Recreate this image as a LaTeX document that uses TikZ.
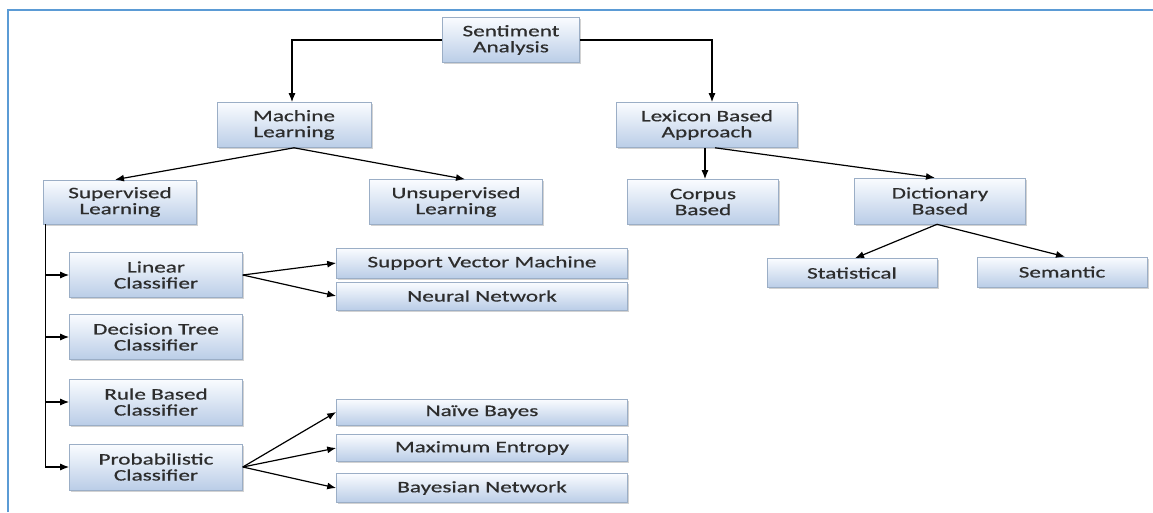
\documentclass[tikz,border=0pt]{standalone}
\usepackage{fontspec}
\setmainfont[FakeStretch=1.45,FakeBold=0.6]{Carlito}
\usetikzlibrary{arrows.meta,shadows}
\definecolor{frameblue}{RGB}{91,155,213}
\definecolor{boxtop}{RGB}{250,252,255}
\definecolor{boxbot}{RGB}{186,205,231}
\definecolor{boxline}{RGB}{155,174,198}
\definecolor{txt}{RGB}{45,45,45}
\begin{document}
\begin{tikzpicture}[x=1pt,y=-1pt,
  box/.style={draw=boxline, line width=0.6pt, top color=boxtop, bottom color=boxbot,
    align=center, text=txt, inner sep=1pt, font=\fontsize{16}{16}\selectfont,
    drop shadow={shadow xshift=1.5pt, shadow yshift=-1.5pt, fill=black!35, opacity=0.5}},
  arr/.style={-{Latex[length=9pt,width=7pt]}, line width=1.2pt}]
\useasboundingbox (0,0) rectangle (1153,512);
\draw[frameblue, line width=2.5pt] (8,512) -- (8,10) -- (1153,10);
% top levels
\node[box, minimum width=137pt, minimum height=45pt] (sa) at (511,40) {Sentiment\\Analysis};
\node[box, minimum width=154pt, minimum height=45pt] (ml) at (294,125) {Machine\\Learning};
\node[box, minimum width=181pt, minimum height=45pt] (lex) at (707,125) {Lexicon Based\\Approach};
\node[box, minimum width=153pt, minimum height=44pt] (sl) at (120,202) {Supervised\\Learning};
\node[box, minimum width=173pt, minimum height=45pt] (usl) at (456,202) {Unsupervised\\Learning};
\node[box, minimum width=151pt, minimum height=45pt] (cb) at (703,202) {Corpus\\Based};
\node[box, minimum width=171pt, minimum height=46pt] (db) at (940,201) {Dictionary\\Based};
\node[box, minimum width=170pt, minimum height=29pt] (st) at (852,273) {Statistical};
\node[box, minimum width=170pt, minimum height=30pt] (sem) at (1062,272) {Semantic};
% classifiers
\node[box, minimum width=173pt, minimum height=45pt] (lc) at (156,275) {Linear\\Classifier};
\node[box, minimum width=173pt, minimum height=45pt] (dt) at (156,337) {Decision Tree\\Classifier};
\node[box, minimum width=173pt, minimum height=46pt] (rb) at (156,402) {Rule Based\\Classifier};
\node[box, minimum width=173pt, minimum height=46pt] (pc) at (156,467) {Probabilistic\\Classifier};
\node[box, minimum width=291pt, minimum height=30pt] (svm) at (482,263) {Support Vector Machine};
\node[box, minimum width=291pt, minimum height=28pt] (nn) at (482,296) {Neural Network};
\node[box, minimum width=291pt, minimum height=26pt] (nb) at (482,412) {Naïve Bayes};
\node[box, minimum width=291pt, minimum height=27pt] (me) at (482,448) {Maximum Entropy};
\node[box, minimum width=291pt, minimum height=29pt] (bn) at (482,488) {Bayesian Network};
% connectors
\draw[arr] (sa.west) -| ([xshift=-2pt]ml.north);
\draw[arr] (sa.east) -| ([xshift=5pt]lex.north);
\draw[arr] (ml.south) -- ([xshift=-5pt]sl.north);
\draw[arr] (ml.south) -- ([xshift=9pt]usl.north);
\draw[arr] ([xshift=-2pt]lex.south) -- ([xshift=2pt]cb.north);
\draw[arr] ([xshift=8pt]lex.south) -- ([xshift=-5pt]db.north);
\draw[arr] ([xshift=-3pt]db.south) -- ([xshift=3pt]st.north);
\draw[arr] ([xshift=-3pt]db.south) -- ([xshift=3pt]sem.north);
\foreach \n in {lc,dt,rb,pc}
  \draw[arr] ([xshift=2pt]sl.south west) |- (\n.west);
\foreach \n in {svm,nn}
  \draw[arr] (lc.east) -- (\n.west);
\foreach \n in {nb,me,bn}
  \draw[arr] (pc.east) -- (\n.west);
\end{tikzpicture}
\end{document}
